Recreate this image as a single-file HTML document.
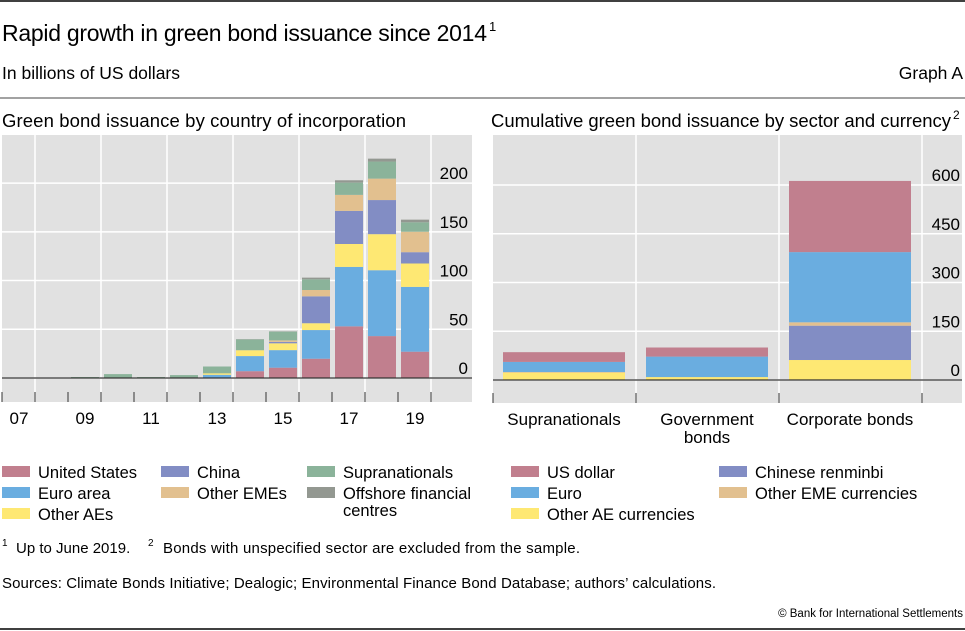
<!DOCTYPE html>
<html><head><meta charset="utf-8"><style>
body{margin:0;background:#fff;}
svg{display:block;font-family:"Liberation Sans",sans-serif;}
</style></head><body>
<svg id="c" width="965" height="631" viewBox="0 0 965 631">
<line x1="0" y1="1" x2="965" y2="1" stroke="#000" stroke-width="1.5"/>
<text x="2" y="41" font-size="23" textLength="485" fill="#000">Rapid growth in green bond issuance since 2014</text>
<text x="489" y="31" font-size="13">1</text>
<text x="2" y="79" font-size="17.5">In billions of US dollars</text>
<text x="963" y="79" font-size="17.5" text-anchor="end">Graph A</text>
<line x1="0" y1="98" x2="965" y2="98" stroke="#444" stroke-width="1"/>
<text x="2" y="127" font-size="18.5" textLength="404">Green bond issuance by country of incorporation</text>
<text x="491" y="127" font-size="18.5" textLength="460">Cumulative green bond issuance by sector and currency</text>
<text x="953" y="119" font-size="12">2</text>
<g id="left"></g>
<g id="right"></g>
<g id="legL"></g>
<g id="legR"></g>
<g>
<text x="2" y="546" font-size="10">1</text>
<text x="16" y="553" font-size="15">Up to June 2019.</text>
<text x="148" y="546" font-size="10">2</text>
<text x="163" y="553" font-size="15" textLength="417">Bonds with unspecified sector are excluded from the sample.</text>
</g>
<text x="2" y="588" font-size="15" textLength="714">Sources: Climate Bonds Initiative; Dealogic; Environmental Finance Bond Database; authors’ calculations.</text>
<text x="963" y="617" font-size="11.5" text-anchor="end">© Bank for International Settlements</text>
<line x1="0" y1="629" x2="965" y2="629" stroke="#000" stroke-width="1.5"/>
</svg>
<script>
const years=["07","08","09","10","11","12","13","14","15","16","17","18","19"];
const seriesNamesL=["United States","Euro area","Other AEs","China","Other EMEs","Supranationals","Offshore financial centres"];
const usVals=[0,0,0,0,0,0,0.3,7,10.6,19.8,53,43,27];
const euroVals=[0,0,0,0,0,0,3,15.5,18,29.4,61,67.6,66.5];
const otherAEVals=[0,0,0,0,0,0.5,1.5,6,7,7,23.5,37,24];
const chinaVals=[0,0,0,0,0,0,0,0,1.5,27.6,34,35,11.6];
const otherEMEVals=[0,0,0,0,0,0,0,0,1.5,6.5,16.4,22,21];
const supraVals=[0,0.3,1,4,1,2.5,7,11,9,11,12.6,17.5,9.7];
const offshoreVals=[0,0,0,0,0,0,0,0.3,0.3,1.7,2.4,3,2.7];
const ticksL=[0,50,100,150,200];
const yearLabels=["07","09","11","13","15","17","19"];
const sectors=["Supranationals","Government bonds","Corporate bonds"];
const seriesNamesR=["US dollar","Euro","Other AE currencies","Chinese renminbi","Other EME currencies"];
const rOtherAE=[22.6,9,61.5];
const rRenminbi=[0,0,105.6];
const rOtherEME=[2,0,10.4];
const rEuro=[31,63,216];
const rUSD=[30,28,219];
const ticksR=[0,150,300,450,600];
const colors={us:"#c17f8e",eu:"#6aade0",ae:"#fee873",cn:"#828dc4",eme:"#e2c08f",sup:"#8bb39a",off:"#939891"};
const NS="http://www.w3.org/2000/svg";
function mk(parent,tag,attrs){const e=document.createElementNS(NS,tag);for(const k in attrs)e.setAttribute(k,attrs[k]);parent.appendChild(e);return e;}

// LEFT
const L=document.getElementById('left');
const lx0=2,lx1=472,ly0=135,ly1=402,lzero=378,lscale=0.9745,slot=33;
const yL=v=>lzero-v*lscale;
const xL=i=>lx0+i*slot;
let r=mk(L,'rect',{x:lx0,y:ly0,width:lx1-lx0,height:ly1-ly0,fill:"#e1e1e1"});

ticksL.forEach(t=>{let g=mk(L,'line',{x1:lx0,x2:lx1,y1:yL(t),y2:yL(t),stroke:"#fff","stroke-width":1.5});

let tx=mk(L,'text',{x:468,y:yL(t)-4,"font-size":17,"text-anchor":"end"});tx.textContent=t;
});
for(let i=1;i<=13;i+=2){let g=mk(L,'line',{x1:xL(i),x2:xL(i),y1:ly0,y2:ly1,stroke:"#fff","stroke-width":1.5});
}
const stL=[[usVals,colors.us],[euroVals,colors.eu],[otherAEVals,colors.ae],[chinaVals,colors.cn],[otherEMEVals,colors.eme],[supraVals,colors.sup],[offshoreVals,colors.off]];
years.forEach((y,i)=>{let acc=0;stL.forEach(([arr,c],si)=>{const v=arr[i];if(v>0){
let b=mk(L,'rect',{x:xL(i)+3,y:yL(acc+v),width:slot-5,height:v*lscale,fill:c});
}acc+=v;});});
let ax=mk(L,'line',{x1:lx0,x2:lx1,y1:lzero,y2:lzero,stroke:"#333","stroke-width":1.3});

for(let i=0;i<=13;i++){let t=mk(L,'line',{x1:xL(i),x2:xL(i),y1:392,y2:402,stroke:"#333","stroke-width":1});
}
yearLabels.forEach((lb,k)=>{let tx=mk(L,'text',{x:xL(2*k)+17,y:424,"font-size":17,"text-anchor":"middle"});tx.textContent=lb;
});

// RIGHT
const R=document.getElementById('right');
const rx0=493,rx1=962,ry0=135,ry1=403,rzero=380,rscale=0.325,rslot=143;
const yR=v=>rzero-v*rscale;
const xR=i=>rx0+i*rslot;
r=mk(R,'rect',{x:rx0,y:ry0,width:rx1-rx0,height:ry1-ry0,fill:"#e1e1e1"});

ticksR.forEach(t=>{let g=mk(R,'line',{x1:rx0,x2:rx1,y1:yR(t),y2:yR(t),stroke:"#fff","stroke-width":1.5});

let tx=mk(R,'text',{x:960,y:yR(t)-4,"font-size":17,"text-anchor":"end"});tx.textContent=t;
});
for(let i=1;i<=3;i++){let g=mk(R,'line',{x1:xR(i),x2:xR(i),y1:ry0,y2:ry1,stroke:"#fff","stroke-width":1.5});
}
const stR=[[rOtherAE,colors.ae],[rRenminbi,colors.cn],[rOtherEME,colors.eme],[rEuro,colors.eu],[rUSD,colors.us]];
sectors.forEach((s,i)=>{let acc=0;stR.forEach(([arr,c],si)=>{const v=arr[i];if(v>0){
let b=mk(R,'rect',{x:xR(i)+10,y:yR(acc+v),width:rslot-21,height:v*rscale,fill:c});
}acc+=v;});});
ax=mk(R,'line',{x1:rx0,x2:rx1,y1:rzero,y2:rzero,stroke:"#333","stroke-width":1.3});

for(let i=0;i<=3;i++){let t=mk(R,'line',{x1:xR(i),x2:xR(i),y1:393,y2:403,stroke:"#333","stroke-width":1});
}
const secLines=[["Supranationals"],["Government","bonds"],["Corporate bonds"]];
secLines.forEach((ls,i)=>ls.forEach((l,j)=>{let tx=mk(R,'text',{x:xR(i)+71,y:425+j*18,"font-size":17,"text-anchor":"middle"});tx.textContent=l;
}));

// Legends
function leg(g,x,y,c,lines){let s=mk(g,'rect',{x:x,y:y-6,width:28,height:11,fill:c});

lines.forEach((l,j)=>{let t=mk(g,'text',{x:x+36,y:y+6+j*17,"font-size":16.5});t.textContent=l;
});}
const gl=document.getElementById('legL');
leg(gl,2,472,colors.us,["United States"]);leg(gl,2,493,colors.eu,["Euro area"]);leg(gl,2,514,colors.ae,["Other AEs"]);
leg(gl,161,472,colors.cn,["China"]);leg(gl,161,493,colors.eme,["Other EMEs"]);
leg(gl,307,472,colors.sup,["Supranationals"]);leg(gl,307,493,colors.off,["Offshore financial","centres"]);
const gr=document.getElementById('legR');
leg(gr,511,472,colors.us,["US dollar"]);leg(gr,511,493,colors.eu,["Euro"]);leg(gr,511,514,colors.ae,["Other AE currencies"]);
leg(gr,719,472,colors.cn,["Chinese renminbi"]);leg(gr,719,493,colors.eme,["Other EME currencies"]);
</script>
</body></html>
